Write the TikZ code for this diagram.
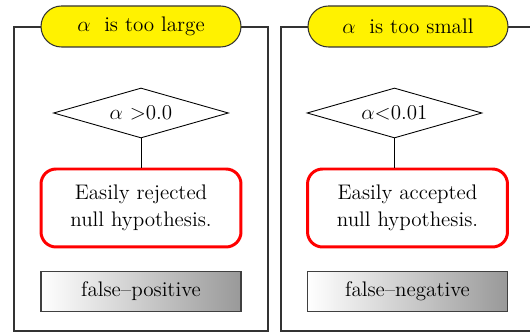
\documentclass[tikz,border=0pt]{standalone}
\usetikzlibrary{shapes.geometric}

\tikzset{
  frameline/.style={black!80,line width=0.8pt},
  titlepill/.style={draw=black!80,fill=yellow,line width=0.6pt,rounded corners=0.41cm,
    minimum width=4cm,minimum height=0.82cm,font=\fontsize{12}{14}\selectfont},
  cond/.style={draw,diamond,aspect=3.5,inner sep=0pt,line width=0.5pt,
    minimum width=3.5cm,minimum height=1cm,font=\fontsize{12}{14}\selectfont},
  effect/.style={draw=red,line width=1.7pt,rounded corners=0.3cm,align=center,
    minimum width=4cm,minimum height=1.56cm,font=\fontsize{12}{15.5}\selectfont},
  errbox/.style={draw=black!75,line width=0.9pt,left color=white,right color=black!40,
    minimum width=4cm,minimum height=0.8cm,font=\fontsize{12}{14}\selectfont}
}

\begin{document}
\begin{tikzpicture}[x=0.02cm,y=-0.02cm]
\useasboundingbox (0,0) rectangle (530,333);
% left panel
\draw[frameline] (14,27) rectangle (268,331);
\node[titlepill] (big) at (141,26.5) {$\alpha$\ \ is\ too\ large};
\node[cond] (gt) at (141,113) {$\alpha$ >0.0};
\node[effect] (rej) at (141,208) {Easily rejected\\null hypothesis.};
\node[errbox] (fp) at (141,291.5) {false--positive};
\draw[line width=0.5pt] (gt.south) -- (gt.south |- rej.north);
% right panel
\draw[frameline] (530,27) -- (281,27) -- (281,331) -- (530,331);
\node[titlepill] (small) at (408,26.5) {$\alpha$\ \ is\ too\ small};
\node[cond] (lt) at (394.5,113) {$\alpha$<0.01};
\node[effect] (acc) at (407.5,208) {Easily accepted\\null hypothesis.};
\node[errbox] (fn) at (407.5,291.5) {false--negative};
\draw[line width=0.5pt] (lt.south) -- (lt.south |- acc.north);
\end{tikzpicture}
\end{document}
